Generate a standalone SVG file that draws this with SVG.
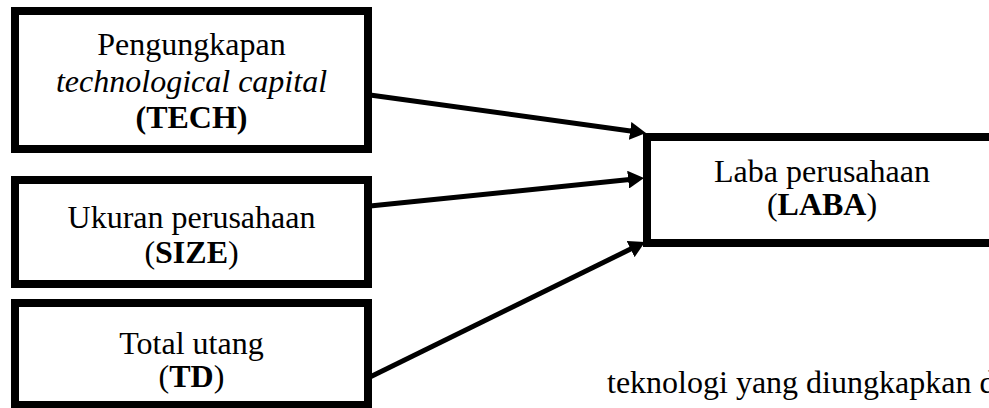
<svg xmlns="http://www.w3.org/2000/svg" width="989" height="408" viewBox="0 0 989 408">
<defs>
<style>
.box{fill:#fff;stroke:#000;stroke-width:8}
.t{font-family:"Liberation Serif","Times New Roman",serif;font-size:32px;fill:#000;text-anchor:middle}
.b{font-weight:bold}
.i{font-style:italic}
.conn{stroke:#000;stroke-width:5;fill:none;marker-end:url(#ah)}
</style>
<marker id="ah" markerUnits="userSpaceOnUse" markerWidth="16" markerHeight="18" refX="4" refY="9" orient="auto" viewBox="0 0 16 18">
<path d="M0,0 L16,9 L0,18 z" fill="#000"/>
</marker>
</defs>
<rect width="989" height="408" fill="#fff"/>
<g id="tech">
<rect class="box" x="15" y="11" width="353" height="138"/>
<text class="t" x="191.5" y="55">Pengungkapan</text>
<text class="t i" x="191.5" y="92">technological capital</text>
<text class="t" x="191.5" y="128"><tspan class="b">(TECH)</tspan></text>
</g>
<g id="size">
<rect class="box" x="15" y="180" width="353" height="104"/>
<text class="t" x="191.5" y="228">Ukuran perusahaan</text>
<text class="t" x="191.5" y="263">(<tspan class="b">SIZE</tspan>)</text>
</g>
<g id="td">
<rect class="box" x="15" y="303" width="353" height="102"/>
<text class="t" x="191.5" y="354">Total utang</text>
<text class="t" x="191.5" y="387">(<tspan class="b">TD</tspan>)</text>
</g>
<g id="laba">
<rect class="box" x="647" y="137" width="360" height="106"/>
<text class="t" x="822" y="182">Laba perusahaan</text>
<text class="t" x="822" y="215">(<tspan class="b">LABA</tspan>)</text>
</g>
<g id="connectors">
<line class="conn" x1="370" y1="95" x2="634.1" y2="131.4"/>
<line class="conn" x1="370" y1="206" x2="632.1" y2="179.2"/>
<line class="conn" x1="370" y1="377" x2="634.2" y2="247.3"/>
</g>
<text class="t" x="607" y="393" style="text-anchor:start">teknologi yang diungkapkan d</text>
</svg>
